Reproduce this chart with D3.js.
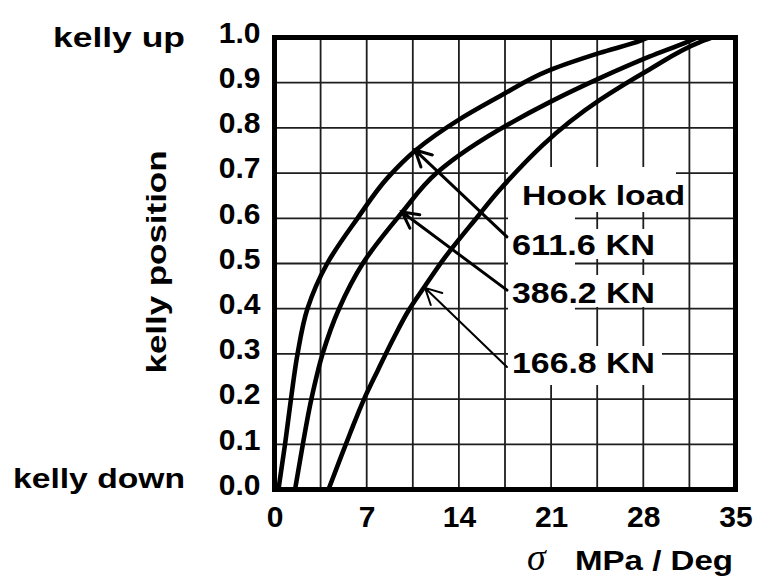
<!DOCTYPE html>
<html>
<head>
<meta charset="utf-8">
<script src="https://cdn.jsdelivr.net/npm/d3@7"></script>
<style>
  body { margin: 0; background: #fff; }
  svg { display: block; }
  text { font-family: "Liberation Sans", Arial, sans-serif; font-weight: bold; fill: #000; }
</style>
</head>
<body>
<svg id="chart" width="761" height="582"></svg>
<script>
// Axis ticks and grid
const xTicks = [0, 7, 14, 21, 28, 35];
const yTicks = [0, 0.1, 0.2, 0.3, 0.4, 0.5, 0.6, 0.7, 0.8, 0.9, 1.0];
const xGrid = [3.5, 7, 10.5, 14, 17.5, 21, 24.5, 28, 31.5];
const yGrid = [0.1, 0.2, 0.3, 0.4, 0.5, 0.6, 0.7, 0.8, 0.9];

// Hook load series: [sigma (MPa/Deg), kelly position]
const hookLoads = ["611.6 KN", "386.2 KN", "166.8 KN"];
const load611 = [[0.3,0],[0.8,0.1],[1.25,0.2],[1.75,0.3],[2.5,0.4],[4.0,0.5],[6.3,0.6],[8.6,0.69],[10.7,0.75],[14.1,0.82],[17.1,0.87],[20.9,0.928],[24.7,0.966],[27.8,0.993],[28.4,1.0]];
const load386 = [[1.56,0],[2.15,0.1],[2.8,0.2],[3.65,0.3],[4.9,0.4],[6.7,0.5],[9.6,0.61],[12.3,0.70],[20.9,0.857],[24.7,0.91],[28.5,0.958],[31.3,0.99],[32.1,1.0]];
const load166 = [[4.1,0],[4.95,0.065],[5.75,0.125],[6.8,0.2],[7.85,0.264],[9.1,0.338],[10.2,0.397],[11.4,0.449],[12.8,0.508],[15.4,0.603],[17.1,0.663],[24.7,0.862],[28.5,0.93],[32.3,0.99],[33.2,1.0]];

// Arrow pointers from each label to its curve: tip and tail in data units
const pointerTips  = [[10.67,0.751],[9.68,0.614],[11.43,0.446]];
const pointerTails = [[17.65,0.559],[17.65,0.441],[17.65,0.271]];

const svg = d3.select("#chart");
const plotLeft = 274.5, plotRight = 735.5, plotTop = 37.5, plotBottom = 489.5;

const x = d3.scaleLinear().domain([0, 35]).range([plotLeft, plotRight]);
const y = d3.scaleLinear().domain([0, 1]).range([plotBottom, plotTop]);

// Grid
const grid = svg.append("g").attr("stroke", "#1e1e1e").attr("stroke-width", 1.8);
grid.selectAll("line.v").data(xGrid).join("line").attr("class", "v")
  .attr("x1", d => x(d)).attr("x2", d => x(d)).attr("y1", plotTop).attr("y2", plotBottom);
grid.selectAll("line.h").data(yGrid).join("line").attr("class", "h")
  .attr("x1", plotLeft).attr("x2", plotRight).attr("y1", d => y(d)).attr("y2", d => y(d));

// White panels behind the hook-load labels
const covers = [
  [508, 167, 67, 218],
  [508, 167, 168, 45],
  [508, 229, 152, 30],
  [508, 275, 152, 32],
  [508, 346, 154, 39]
];
svg.append("g").selectAll("rect").data(covers).join("rect")
  .attr("x", d => d[0]).attr("y", d => d[1]).attr("width", d => d[2]).attr("height", d => d[3])
  .attr("fill", "#fff");

// Axes
const yAxis = svg.append("g").attr("transform", `translate(${plotLeft},0)`)
  .call(d3.axisLeft(y).tickValues(yTicks).tickFormat(d3.format(".1f")).tickSize(0).tickPadding(14));
yAxis.select(".domain").remove();
yAxis.selectAll("text").attr("font-size", 30).attr("dy", "0.16em")
  .style("font-family", '"Liberation Sans", Arial, sans-serif').style("font-weight", "bold");

const xAxis = svg.append("g").attr("transform", `translate(0,${plotBottom})`)
  .call(d3.axisBottom(x).tickValues(xTicks).tickFormat(d3.format("d")).tickSize(0).tickPadding(16));
xAxis.select(".domain").remove();
xAxis.selectAll("text").attr("font-size", 30)
  .style("font-family", '"Liberation Sans", Arial, sans-serif').style("font-weight", "bold");

// Curves (monotone along the kelly axis)
const line = d3.line().x(d => x(d[0])).y(d => y(d[1])).curve(d3.curveMonotoneY);
svg.append("g").selectAll("path").data([load611, load386, load166]).join("path")
  .attr("d", d => line(d.slice().reverse())).attr("fill", "none").attr("stroke", "#000")
  .attr("stroke-width", 4.6).attr("stroke-linejoin", "round");

// Pointers
const pointerWidths = [3, 3, 2];
const pg = svg.append("g").attr("stroke", "#000").attr("fill", "none").attr("stroke-linecap", "round");
pointerTips.forEach((tip, i) => {
  const tx = x(tip[0]), ty = y(tip[1]);
  const ex = x(pointerTails[i][0]), ey = y(pointerTails[i][1]);
  const a = Math.atan2(ey - ty, ex - tx);
  const len = 18, spread = 0.48;
  pg.append("path")
    .attr("d", `M${ex},${ey}L${tx},${ty}` +
      `M${tx + len * Math.cos(a - spread)},${ty + len * Math.sin(a - spread)}L${tx},${ty}` +
      `L${tx + len * Math.cos(a + spread)},${ty + len * Math.sin(a + spread)}`)
    .attr("stroke-width", pointerWidths[i]);
});

// Frame
svg.append("rect").attr("x", plotLeft).attr("y", plotTop)
  .attr("width", plotRight - plotLeft).attr("height", plotBottom - plotTop)
  .attr("fill", "none").attr("stroke", "#000").attr("stroke-width", 5);

// Text labels
function label(t, px, py, size, len) {
  const el = svg.append("text").attr("x", px).attr("y", py).attr("font-size", size).text(t);
  if (len) el.attr("textLength", len).attr("lengthAdjust", "spacingAndGlyphs");
  return el;
}
label("kelly up", 53, 47, 27, 132);
label("kelly down", 13, 488, 27, 172);
label("Hook load", 522, 205, 28, 163);
const labelBaselines = [255, 303, 373];
hookLoads.forEach((t, i) => label(t, 512, labelBaselines[i], 30, 143));

svg.append("text")
  .attr("transform", "translate(166,262) rotate(-90)")
  .attr("text-anchor", "middle").attr("font-size", 27)
  .attr("textLength", 223).attr("lengthAdjust", "spacingAndGlyphs")
  .text("kelly position");

svg.append("text").attr("x", 527).attr("y", 570)
  .style("font-family", '"Liberation Serif", "Times New Roman", serif')
  .style("font-style", "italic").style("font-weight", "normal")
  .attr("font-size", 38).text("σ");
label("MPa / Deg", 575, 570, 28, 158);
</script>
</body>
</html>
